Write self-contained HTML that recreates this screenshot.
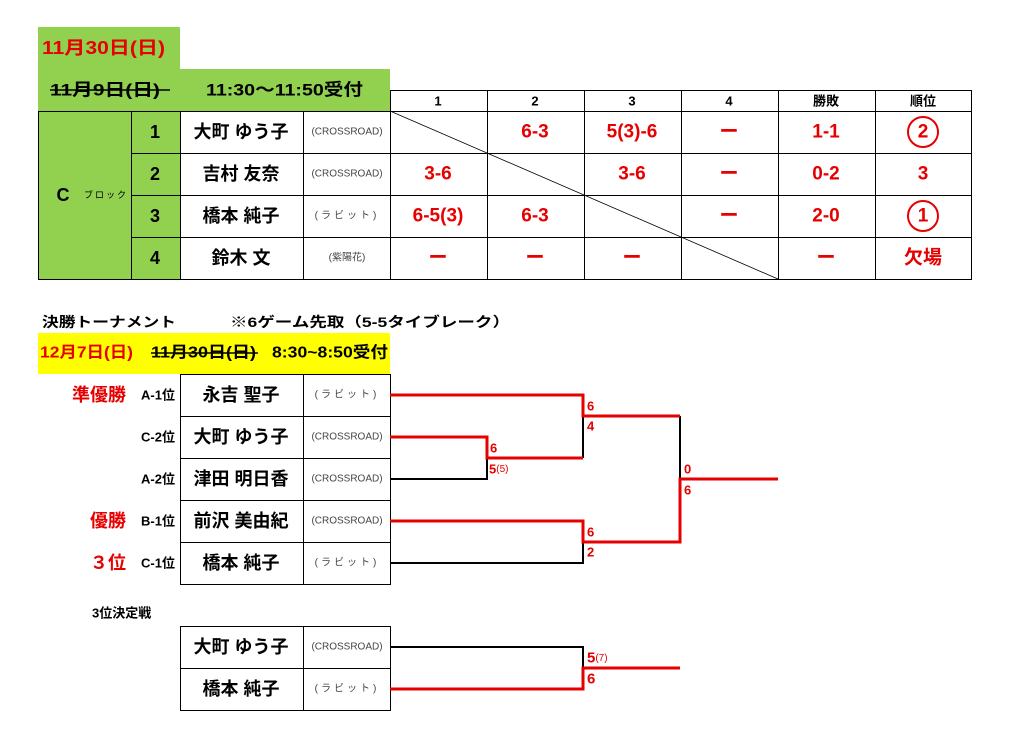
<!DOCTYPE html>
<html><head><meta charset="utf-8"><style>
html,body{margin:0;padding:0;background:#fff;width:1020px;height:732px;overflow:hidden}
svg{display:block;font-family:"Liberation Sans","Noto Sans CJK JP",sans-serif}
.b{font-weight:bold}
.r{fill:#e60000}
.nm{font-size:18px;font-weight:bold;fill:#000}
.tm{font-size:10px;fill:#444}
.sc{font-size:19px;font-weight:bold;fill:#e60000}
.bs{font-size:13px;font-weight:bold;fill:#e60000}
</style></head><body>
<svg width="1020" height="732" viewBox="0 0 1020 732" text-anchor="middle" dominant-baseline="central">
<rect x="38" y="27" width="142" height="42" fill="#92d050"/>
<rect x="38" y="69" width="352" height="42" fill="#92d050"/>
<rect x="38" y="111" width="142" height="168" fill="#92d050"/>
<text x="42" y="48" text-anchor="start" font-size="18" class="b r" textLength="123" lengthAdjust="spacingAndGlyphs">11月30日(日)</text>
<text x="50" y="90" text-anchor="start" font-size="17" class="b" textLength="110" lengthAdjust="spacingAndGlyphs">11月9日(日)</text>
<line x1="50" y1="90" x2="170" y2="90" stroke="#000" stroke-width="1.5"/>
<text x="206" y="90" text-anchor="start" font-size="17" class="b" textLength="157" lengthAdjust="spacingAndGlyphs">11:30～11:50受付</text>
<g stroke="#000" stroke-width="1" fill="none">
<rect x="38.5" y="111.5" width="933" height="168"/>
<rect x="390.5" y="90.5" width="581" height="21"/>
<line x1="131.5" y1="111" x2="131.5" y2="279"/>
<line x1="180.5" y1="111" x2="180.5" y2="279"/>
<line x1="303.5" y1="111" x2="303.5" y2="279"/>
<line x1="390.5" y1="111" x2="390.5" y2="279"/>
<line x1="487.5" y1="90" x2="487.5" y2="279"/>
<line x1="584.5" y1="90" x2="584.5" y2="279"/>
<line x1="681.5" y1="90" x2="681.5" y2="279"/>
<line x1="778.5" y1="90" x2="778.5" y2="279"/>
<line x1="875.5" y1="90" x2="875.5" y2="279"/>
<line x1="131" y1="153.5" x2="972" y2="153.5"/>
<line x1="131" y1="195.5" x2="972" y2="195.5"/>
<line x1="131" y1="237.5" x2="972" y2="237.5"/>
<line x1="390" y1="111" x2="778" y2="279" stroke-width="0.8"/>
<circle cx="923" cy="132" r="15" stroke="#e60000" stroke-width="2"/>
<circle cx="923" cy="216" r="15" stroke="#e60000" stroke-width="2"/>
</g>
<g font-size="13" class="b">
<text x="438" y="101">1</text><text x="535" y="101">2</text><text x="632" y="101">3</text><text x="729" y="101">4</text><text x="826" y="101">勝敗</text><text x="923" y="101">順位</text>
</g>
<text x="63" y="195" font-size="18" class="b">C</text>
<text x="106" y="195" font-size="9" letter-spacing="2">ブロック</text>
<g font-size="18" class="b"><text x="155" y="132">1</text><text x="155" y="174">2</text><text x="155" y="216">3</text><text x="155" y="258">4</text></g>
<text x="241" y="132" class="nm">大町 ゆう子</text>
<text x="241" y="174" class="nm">吉村 友奈</text>
<text x="241" y="216" class="nm">橋本 純子</text>
<text x="241" y="258" class="nm">鈴木 文</text>
<text x="347" y="132" class="tm">(CROSSROAD)</text>
<text x="347" y="174" class="tm">(CROSSROAD)</text>
<text x="347" y="216" class="tm" letter-spacing="3">(ラビット)</text>
<text x="347" y="258" class="tm" font-size="12">(紫陽花)</text>
<text x="535" y="132" class="sc">6-3</text><text x="632" y="132" class="sc">5(3)-6</text><text x="729" y="132" class="sc">ー</text><text x="826" y="132" class="sc">1-1</text><text x="923" y="132" class="sc">2</text>
<text x="438" y="174" class="sc">3-6</text><text x="632" y="174" class="sc">3-6</text><text x="729" y="174" class="sc">ー</text><text x="826" y="174" class="sc">0-2</text><text x="923" y="174" class="sc">3</text>
<text x="438" y="216" class="sc">6-5(3)</text><text x="535" y="216" class="sc">6-3</text><text x="729" y="216" class="sc">ー</text><text x="826" y="216" class="sc">2-0</text><text x="923" y="216" class="sc">1</text>
<text x="438" y="258" class="sc">ー</text><text x="535" y="258" class="sc">ー</text><text x="632" y="258" class="sc">ー</text><text x="826" y="258" class="sc">ー</text><text x="923" y="258" class="sc">欠場</text>
<text x="42" y="322" text-anchor="start" font-size="14" class="b" textLength="134" lengthAdjust="spacingAndGlyphs">決勝トーナメント</text>
<text x="230" y="322" text-anchor="start" font-size="14" class="b" textLength="280" lengthAdjust="spacingAndGlyphs">※6ゲーム先取（5-5タイブレーク）</text>
<rect x="38" y="333" width="352" height="41" fill="#ffff00"/>
<text x="40" y="353" text-anchor="start" font-size="16" class="b r" textLength="93" lengthAdjust="spacingAndGlyphs">12月7日(日)</text>
<text x="151" y="353" text-anchor="start" font-size="16" class="b" textLength="105" lengthAdjust="spacingAndGlyphs">11月30日(日)</text>
<line x1="151" y1="353" x2="258" y2="353" stroke="#000" stroke-width="1.5"/>
<text x="272" y="353" text-anchor="start" font-size="16" class="b" textLength="116" lengthAdjust="spacingAndGlyphs">8:30~8:50受付</text>
<g stroke="#000" stroke-width="1" fill="none">
<rect x="180.5" y="374.5" width="210" height="210"/>
<line x1="303.5" y1="374" x2="303.5" y2="584"/>
<line x1="180" y1="416.5" x2="390" y2="416.5"/><line x1="180" y1="458.5" x2="390" y2="458.5"/><line x1="180" y1="500.5" x2="390" y2="500.5"/><line x1="180" y1="542.5" x2="390" y2="542.5"/>
<rect x="180.5" y="626.5" width="210" height="84"/>
<line x1="303.5" y1="626" x2="303.5" y2="710"/><line x1="180" y1="668.5" x2="390" y2="668.5"/>
</g>
<text x="126" y="395" text-anchor="end" font-size="18" class="b r">準優勝</text>
<text x="126" y="521" text-anchor="end" font-size="18" class="b r">優勝</text>
<text x="126" y="563" text-anchor="end" font-size="18" class="b r">３位</text>
<g font-size="13" class="b" text-anchor="end">
<text x="175" y="395">A-1位</text><text x="175" y="437">C-2位</text><text x="175" y="479">A-2位</text><text x="175" y="521">B-1位</text><text x="175" y="563">C-1位</text>
</g>
<text x="241" y="395" class="nm">永吉 聖子</text>
<text x="241" y="437" class="nm">大町 ゆう子</text>
<text x="241" y="479" class="nm">津田 明日香</text>
<text x="241" y="521" class="nm">前沢 美由紀</text>
<text x="241" y="563" class="nm">橋本 純子</text>
<text x="347" y="395" class="tm" letter-spacing="3">(ラビット)</text>
<text x="347" y="437" class="tm">(CROSSROAD)</text>
<text x="347" y="479" class="tm">(CROSSROAD)</text>
<text x="347" y="521" class="tm">(CROSSROAD)</text>
<text x="347" y="563" class="tm" letter-spacing="3">(ラビット)</text>
<text x="92" y="613" text-anchor="start" font-size="13" class="b">3位決定戦</text>
<text x="241" y="647" class="nm">大町 ゆう子</text>
<text x="241" y="689" class="nm">橋本 純子</text>
<text x="347" y="647" class="tm">(CROSSROAD)</text>
<text x="347" y="689" class="tm" letter-spacing="3">(ラビット)</text>
<g fill="none" stroke-width="2">
<polyline points="390,479 487,479 487,458" stroke="#000"/>
<polyline points="583,416 583,458" stroke="#000"/>
<polyline points="390,563 583,563 583,542" stroke="#000"/>
<polyline points="680,416 680,479" stroke="#000"/>
<polyline points="390,647 583,647 583,668" stroke="#000"/>
</g>
<g fill="none" stroke="#e60000" stroke-width="3">
<polyline points="390,395 583,395 583,416 680,416"/>
<polyline points="390,437 487,437 487,458 583,458"/>
<polyline points="390,521 583,521 583,542 680,542 680,479 778,479"/>
<polyline points="390,689 583,689 583,668 680,668"/>
</g>
<g text-anchor="start" class="bs">
<text x="587" y="406">6</text><text x="587" y="426">4</text>
<text x="490" y="448">6</text><text x="489" y="469">5<tspan font-size="10" font-weight="normal">(5)</tspan></text>
<text x="684" y="469">0</text><text x="684" y="490">6</text>
<text x="587" y="532">6</text><text x="587" y="552">2</text>
<text x="587" y="658" font-size="15">5<tspan font-size="10" font-weight="normal">(7)</tspan></text><text x="587" y="679" font-size="15">6</text>
</g>
</svg>
</body></html>
